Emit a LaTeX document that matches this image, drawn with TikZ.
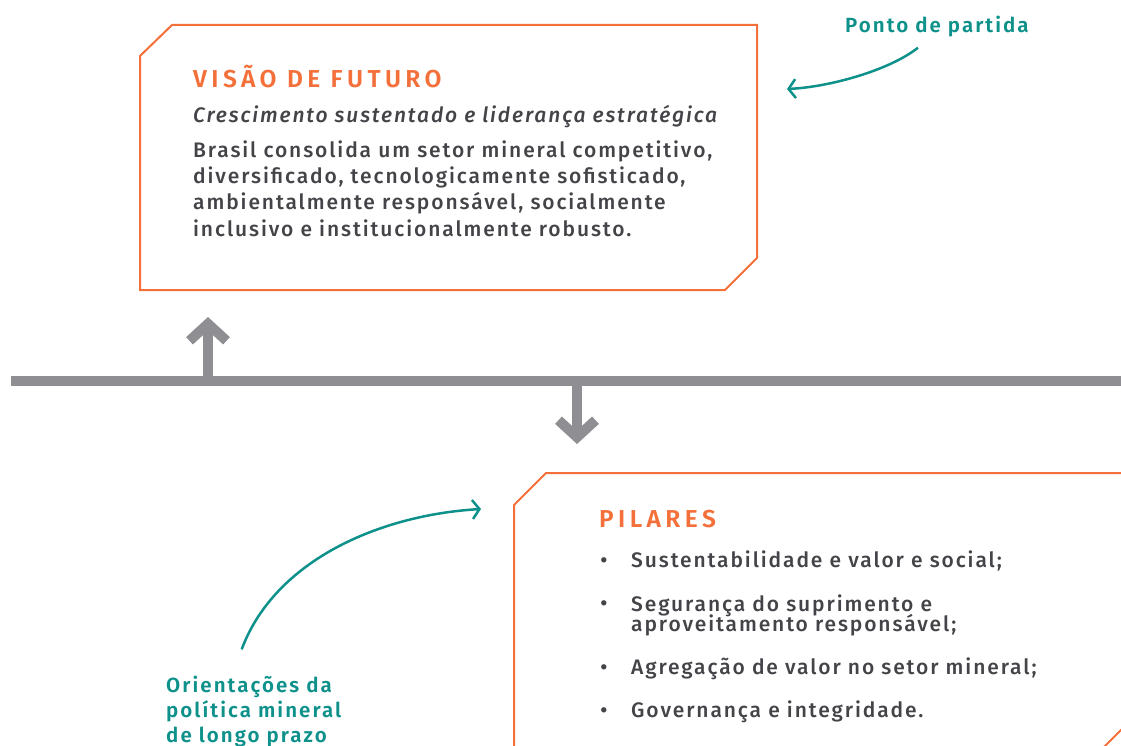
\documentclass[tikz,border=0pt]{standalone}
\usepackage{fontspec}
\setmainfont{Fira Sans}[UprightFont=* Medium, ItalicFont=* Medium Italic, BoldFont=* SemiBold, BoldItalicFont=* SemiBold Italic]
\usetikzlibrary{arrows.meta,positioning}
\definecolor{laranja}{HTML}{F4703A}
\definecolor{verde}{HTML}{0E918A}
\definecolor{cinza}{HTML}{8E8E93}
\definecolor{texto}{HTML}{434348}

\begin{document}
\begin{tikzpicture}[x=1pt, y=-1pt,
                    line join=miter,
                    inner sep=0pt,
                    ]
    \tikzstyle{caixa}=[draw=laranja, line width=2pt]
    \tikzstyle{titulo}=[anchor=base west, text=laranja, font=\bfseries\fontsize{24.5}{28}\selectfont\addfontfeatures{LetterSpace=18}]
    \tikzstyle{corpo}=[anchor=base west, align=left, text=texto, font=\fontsize{21}{26}\selectfont\addfontfeatures{LetterSpace=9}]
    \tikzstyle{lema}=[corpo, font=\itshape\fontsize{21}{26}\selectfont\addfontfeatures{LetterSpace=9}]
    \tikzstyle{item}=[corpo, font=\fontsize{21}{21}\selectfont\addfontfeatures{LetterSpace=9}]
    \tikzstyle{rotulo}=[anchor=base west, align=left, text=verde, font=\bfseries\fontsize{20.5}{25}\selectfont\addfontfeatures{LetterSpace=10}]
    \tikzstyle{barra}=[draw=cinza, line width=10.5pt]
    \tikzstyle{seta}=[draw=cinza, line width=10pt, -{Straight Barb[length=17pt,width=37pt]}]
    \tikzstyle{curva}=[draw=verde, line width=2.5pt, -{Straight Barb[length=7pt,width=19pt]}]

    \useasboundingbox (0,0) rectangle (1121,746);
    \clip (0,0) rectangle (1121,746);

    % caixas
    \path[caixa] (140,290) -- (140,56) -- (172,25) -- (757,25) -- (757,258) -- (725,290) -- cycle;
    \path[caixa] (514,770) -- (514,505) -- (546,473) -- (1125,473) -- (1125,726) -- (1093,758);

    \node[titulo] (visao) at (193,88) {VISÃO DE FUTURO};
    \node[lema] (lema) at (193,123) {Crescimento sustentado e liderança estratégica};
    \node[corpo] (brasil) at (193,236) {Brasil consolida um setor mineral competitivo,\\
        diversificado, tecnologicamente sofisticado,\\
        ambientalmente responsável, socialmente\\
        inclusivo e institucionalmente robusto.};

    \node[titulo] (pilares) at (599,527) {PILARES};
    \foreach \y/\t [count=\i] in {567/{Sustentabilidade e valor e social;},
                                  631/{Segurança do suprimento e\\[-4pt]aproveitamento responsável;},
                                  674/{Agregação de valor no setor mineral;},
                                  717/{Governança e integridade.}} {
        \node[item] (p\i) at (631,\y) {\t};
        \node[item, anchor=base] (b\i) at (604,\y-\ifnum\i=2 21\else 0\fi) {•};
    }

    \node[rotulo] (ponto) at (845,33) {Ponto de partida};
    \node[rotulo] (orient) at (166,742) {Orientações da\\política mineral\\de longo prazo};

    % eixo e setas
    \coordinate (barE) at (11,381);
    \coordinate (barD) at (1121,381);
    \coordinate (pe1) at (208,381);
    \coordinate (pe2) at (577,381);
    \coordinate (topo) at (208,317);
    \coordinate (fundo) at (577,444);
    \path[barra] (barE) -- (barD);
    \path[seta] (pe1) -- (topo);
    \path[seta] (pe2) -- (fundo);

    \coordinate (alvo1) at (787,89);
    \coordinate (alvo2) at (481,509);
    \path[curva] ([xshift=-19pt,yshift=-10pt]ponto.south) .. controls (890,70) and (830,87) .. (alvo1);
    \path[curva] ([xshift=-12pt,yshift=26pt]orient.north) .. controls (275,560) and (380,515) .. (alvo2);
\end{tikzpicture}
\end{document}
